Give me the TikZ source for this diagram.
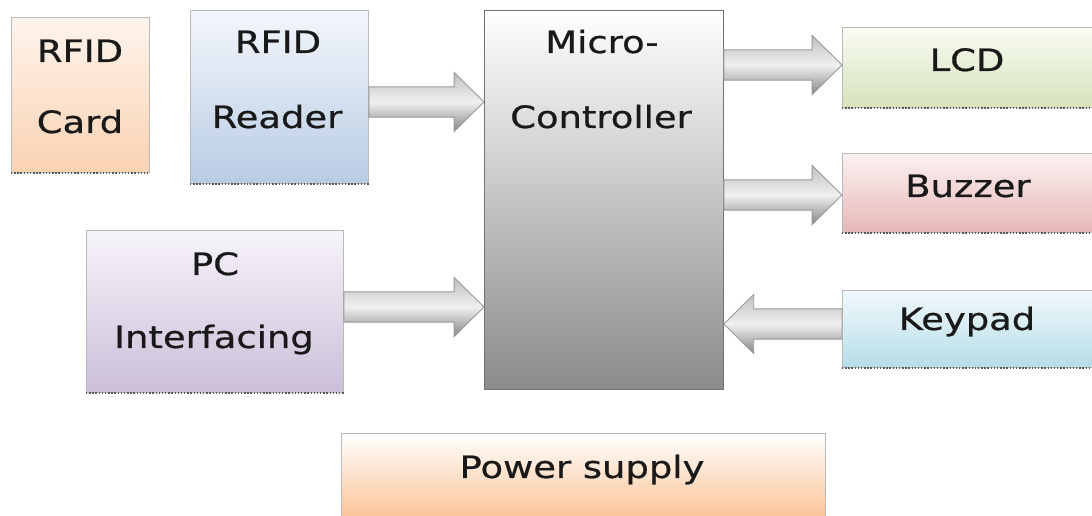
\documentclass[tikz,border=0pt]{standalone}
\usepackage{fontspec}
\newfontfamily\blockfont{DejaVu Sans}[FakeStretch=1.2,FakeBold=0.7]
\usepackage{xcolor}
\usetikzlibrary{calc,positioning}
\definecolor{cardtop}{HTML}{FEF4EC}
\definecolor{cardbot}{HTML}{FAD2B2}
\definecolor{readertop}{HTML}{F3F6FB}
\definecolor{readerbot}{HTML}{B8CCE4}
\definecolor{pctop}{HTML}{F6F3F9}
\definecolor{pcbot}{HTML}{CBBFD9}
\definecolor{lcdtop}{HTML}{F8FBF2}
\definecolor{lcdbot}{HTML}{D6E3BC}
\definecolor{buzztop}{HTML}{FCF1F1}
\definecolor{buzzbot}{HTML}{E5B8B7}
\definecolor{keytop}{HTML}{F1F9FC}
\definecolor{keybot}{HTML}{B6DDE8}
\definecolor{powbot}{HTML}{FAC08F}
\definecolor{mcubot}{HTML}{8A8A8A}
\tikzset{
  blkbox/.style={
    rectangle, draw=gray!55, line width=0.5pt, anchor=north west, inner sep=0pt
  },
  blkmcu/.style={blkbox, draw=gray!90!black, top color=white, bottom color=mcubot},
  blktext/.style={font=\blockfont\fontsize{17.5}{20}\selectfont, text=black!90, anchor=base, inner sep=0pt},
  blkshadow/.style={densely dotted, line width=0.8pt, black!65},
  fatarrow/.style={draw=gray!80, line width=0.5pt, top color=gray!50, bottom color=gray!95, middle color=gray!12}
}
% block arrow from #1 (tail) to #2 (tip)
\newcommand{\blkarrow}[2]{%
  \path[fatarrow] let \p1=(#1), \p2=(#2), \p3=($(\p2)!17pt!(\p1)$) in
    ({\x1},{\y1+8.6pt}) -- ({\x3},{\y1+8.6pt}) -- ({\x3},{\y1+16.8pt}) -- (\p2)
    -- ({\x3},{\y1-16.8pt}) -- ({\x3},{\y1-8.6pt}) -- ({\x1},{\y1-8.6pt}) -- cycle;}

\begin{document}
\begin{tikzpicture}[x=0.02cm,y=-0.02cm]
  \fill[white] (0,0) rectangle (1092,516);
  \useasboundingbox (0,0) rectangle (1092,516);
  % boxes
  \node[blkbox,minimum width=2.76cm,minimum height=3.10cm,top color=cardtop,bottom color=cardbot] (card) at (11,17) {};
  \node[blkbox,minimum width=3.56cm,minimum height=3.46cm,top color=readertop,bottom color=readerbot] (reader) at (190,10) {};
  \node[blkmcu,minimum width=4.78cm,minimum height=7.58cm] (mcu) at (484,10) {};
  \node[blkbox,minimum width=5.14cm,minimum height=3.24cm,top color=pctop,bottom color=pcbot] (pc) at (86,230) {};
  \node[blkbox,minimum width=5.20cm,minimum height=1.60cm,top color=lcdtop,bottom color=lcdbot] (lcd) at (842,27) {};
  \node[blkbox,minimum width=5.20cm,minimum height=1.58cm,top color=buzztop,bottom color=buzzbot] (buzzer) at (842,153) {};
  \node[blkbox,minimum width=5.20cm,minimum height=1.54cm,top color=keytop,bottom color=keybot] (keypad) at (842,290) {};
  \node[blkbox,minimum width=9.68cm,minimum height=1.80cm,top color=white,bottom color=powbot] (power) at (341,433) {};
  \foreach \b in {card,reader,pc,lcd,buzzer,keypad}
    \draw[blkshadow] (\b.south west) -- (\b.south east);
  % labels
  \node[blktext] (cardtxta) at (80,62) {RFID};
  \node[blktext] (cardtxtb) at (80,133) {Card};
  \node[blktext] (readertxta) at (278,53) {RFID};
  \node[blktext] (readertxtb) at (277,128) {Reader};
  \node[blktext] (mcutxta) at (602,53) {Micro-};
  \node[blktext] (mcutxtb) at (601,128) {Controller};
  \node[blktext] (pctxta) at (215,275) {PC};
  \node[blktext] (pctxtb) at (214,348) {Interfacing};
  \node[blktext] (lcdtxt) at (967,71) {LCD};
  \node[blktext] (buzzertxt) at (968,197) {Buzzer};
  \node[blktext] (keypadtxt) at (967,330) {Keypad};
  \node[blktext] (powertxt) at (582,478) {Power supply};
  % arrows
  \blkarrow{reader.east |- 0,102}{mcu.west |- 0,102}
  \blkarrow{pc.east |- 0,307}{mcu.west |- 0,307}
  \blkarrow{mcu.east |- 0,65}{lcd.west |- 0,65}
  \blkarrow{mcu.east |- 0,195}{buzzer.west |- 0,195}
  \blkarrow{keypad.west |- 0,324}{mcu.east |- 0,324}
\end{tikzpicture}
\end{document}
